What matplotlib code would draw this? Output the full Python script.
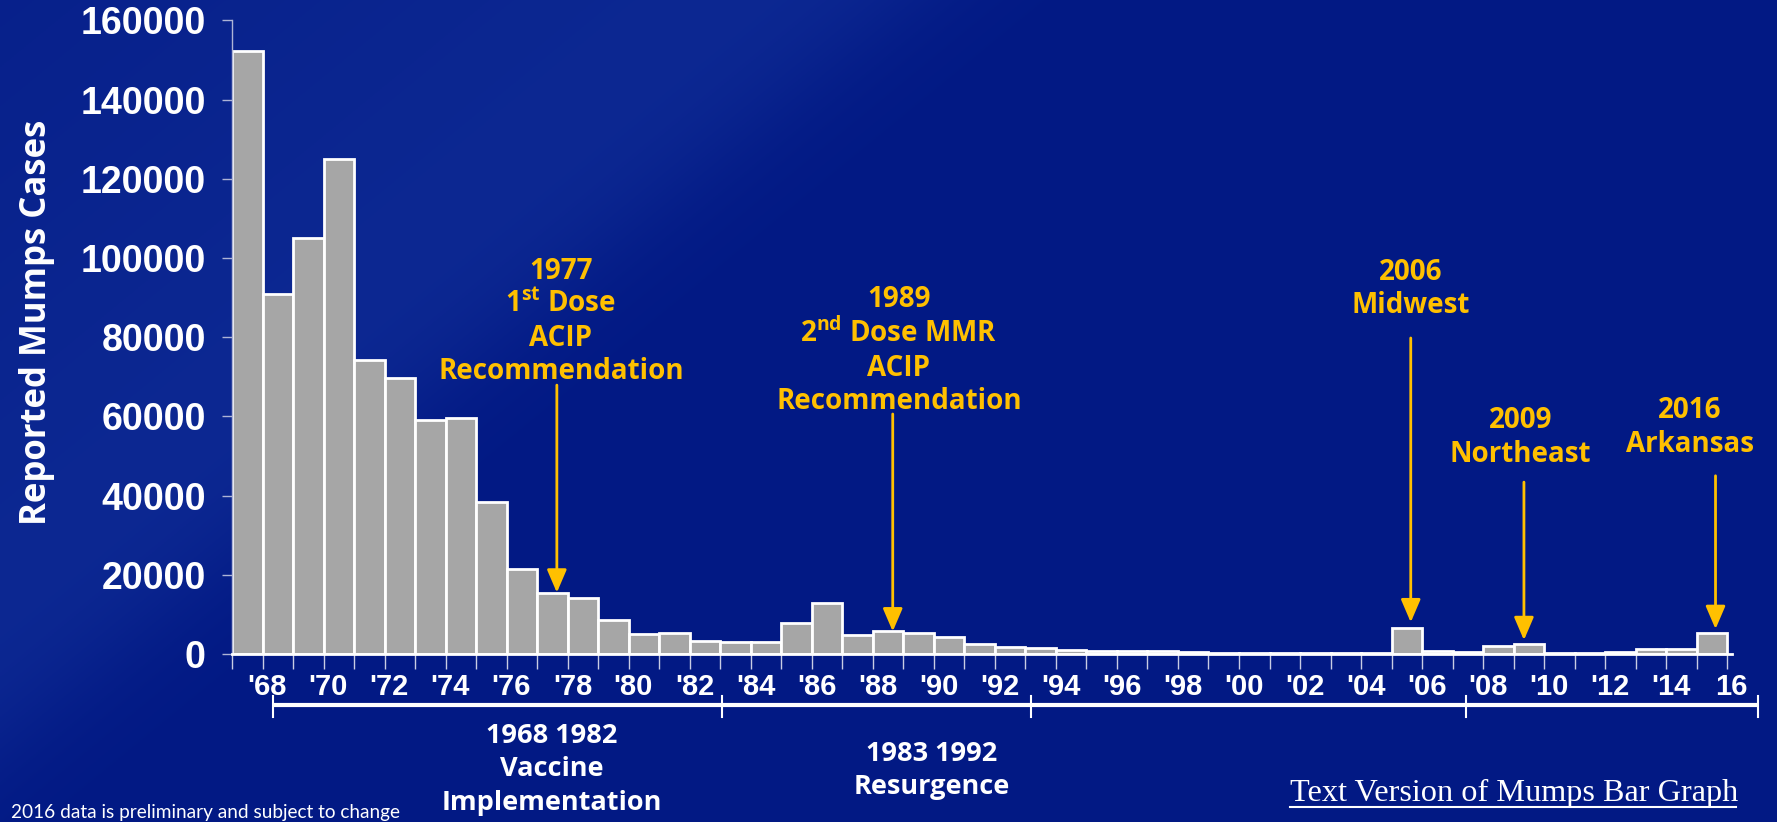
import matplotlib
matplotlib.use("Agg")
import matplotlib.pyplot as plt
import matplotlib.transforms as mtransforms
from matplotlib.lines import Line2D
from matplotlib import font_manager
import numpy as np

# reported mumps cases per year
years = list(range(1968, 2017))
cases = [152209, 90918, 104953, 124939, 74215, 69612, 59128, 59647, 38492, 21436,
         15500, 14225, 8576, 4941, 5270, 3355, 3021, 2982, 7790, 12848,
         4866, 5712, 5292, 4264, 2572, 1692, 1537, 906, 751, 683,
         666, 387, 338, 266, 270, 231, 258, 314, 6584, 800,
         454, 1991, 2612, 370, 229, 584, 1223, 1329, 5311]

tick_years = list(range(1968, 2017, 2))
tick_labels = ["'68", "'70", "'72", "'74", "'76", "'78", "'80", "'82", "'84", "'86",
               "'88", "'90", "'92", "'94", "'96", "'98", "'00", "'02", "'04", "'06",
               "'08", "'10", "'12", "'14", "16"]
y_ticks = [0, 20000, 40000, 60000, 80000, 100000, 120000, 140000, 160000]

note_labels = ["1977\n1$^{st}$ Dose\nACIP\nRecommendation",
               "1989\n2$^{nd}$ Dose MMR\nACIP\nRecommendation",
               "2006\nMidwest",
               "2009\nNortheast",
               "2016\nArkansas"]
period_labels = ["1968 1982\nVaccine\nImplementation", "1983 1992\nResurgence"]

# layout of the notes (data coords)
note_text_x = [1978.27, 1989.35, 2006.13, 2009.72, 2015.28]
note_text_y = [84000, 76600, 92200, 54700, 57200]
arrow_x = [1978.14, 1989.15, 2006.13, 2009.84, 2016.12]
arrow_top = [67900, 60600, 79800, 43400, 45000]
arrow_tip = [15500, 5700, 8000, 3500, 6300]
period_edges = [1968.83, 1983.54, 1993.69, 2007.95, 2017.5]

YEL = '#FFC000'
names = {f.name for f in font_manager.fontManager.ttflist}
tick_font = 'Liberation Sans Narrow' if 'Liberation Sans Narrow' in names else 'Liberation Sans'

plt.rcParams['mathtext.fontset'] = 'custom'
plt.rcParams['mathtext.default'] = 'regular'

fig = plt.figure(figsize=(17.77, 8.22), dpi=100)

# background gradient
H, W = 411, 888
u = np.linspace(0, 1, W)[None, :]
v = np.linspace(0, 1, H)[:, None]
t = u / 0.504 + v / 0.893
light = 1 / (1 + np.exp(-(1 - t) / 0.06)) * np.clip(0.45 + 0.55 * t, 0, 1)
dark = np.array([2, 25, 132]) / 255
lite = np.array([14, 42, 148]) / 255
img = dark + light[..., None] * (lite - dark)
bg = fig.add_axes([0, 0, 1, 1], zorder=-10)
bg.imshow(img, aspect='auto', extent=[0, 1, 0, 1])
bg.axis('off')

ax = fig.add_axes([0.1307, 0.2044, 0.8438, 0.7708])
ax.set_facecolor('none')
ax.bar(years, cases, width=1.0, color='#A6A6A6', edgecolor='white', linewidth=2, zorder=2)
ax.set_xlim(1967.5, 2016.5)
ax.set_ylim(0, 160000)

for s in ['top', 'right']:
    ax.spines[s].set_visible(False)
ax.spines['left'].set_color('#AEB4D6')
ax.spines['left'].set_linewidth(1)
ax.spines['bottom'].set_color('white')
ax.spines['bottom'].set_linewidth(2)
ax.spines['bottom'].set_zorder(3)

ax.set_yticks(y_ticks, [str(y) for y in y_ticks], fontfamily='Liberation Sans', fontweight='bold')
ax.tick_params(axis='y', direction='out', length=7, width=1, color='#AEB4D6', pad=12,
               labelsize=27, labelcolor='white')
ax.set_xticks(np.array(tick_years) + 0.65, tick_labels, fontfamily=tick_font, fontweight='bold')
ax.set_xticks(np.arange(1967.5, 2017, 1), minor=True)
ax.tick_params(axis='x', which='major', length=0, pad=14, labelsize=21, labelcolor='white')
ax.tick_params(axis='x', which='minor', direction='out', length=10.8, width=1, color='#C8CCE4')

fig.text(0.021, 0.608, 'Reported Mumps Cases', rotation=90, ha='center', va='center',
         color='white', fontsize=25, fontweight='bold', family='Open Sans')

# event notes with arrows
for lab, tx, ty, axx, top, tip in zip(note_labels, note_text_x, note_text_y,
                                       arrow_x, arrow_top, arrow_tip):
    ax.text(tx, ty, lab, ha='center', va='center', color=YEL, fontsize=20,
            fontweight='bold', family='Open Sans', linespacing=1.2, zorder=5)
    ax.annotate('', xy=(axx, tip), xytext=(axx, top),
                arrowprops=dict(arrowstyle='-|>,head_length=0.7,head_width=0.3',
                                color=YEL, lw=2, shrinkA=0, shrinkB=0, mutation_scale=20),
                zorder=5)

# period bracket under the axis
trans = mtransforms.blended_transform_factory(ax.transData, fig.transFigure)
fig.add_artist(Line2D([period_edges[0], period_edges[-1]], [0.1423, 0.1423], transform=trans,
                      color='white', lw=3, solid_capstyle='butt'))
for e in period_edges:
    fig.add_artist(Line2D([e, e], [0.1277, 0.1533], transform=trans, color='white', lw=1.5))

fig.text(0.3106, 0.0639, period_labels[0], ha='center', va='center', color='white',
         fontsize=19.5, fontweight='bold', family='Open Sans', linespacing=1.38)
fig.text(0.5245, 0.0627, period_labels[1], ha='center', va='center', color='white',
         fontsize=19.5, fontweight='bold', family='Open Sans', linespacing=1.38)

fig.text(0.006, 0.012, '2016 data is preliminary and subject to change', ha='left', va='center',
         color='white', fontsize=13.7, family='Lato')
fig.text(0.726, 0.035, 'Text Version of Mumps Bar Graph', ha='left', va='center',
         color='white', fontsize=23.2, family='Liberation Serif')
fig.add_artist(Line2D([0.726, 0.977], [0.018, 0.018], transform=fig.transFigure,
                      color='white', lw=1.5))

fig.savefig('out.png', dpi=100)
